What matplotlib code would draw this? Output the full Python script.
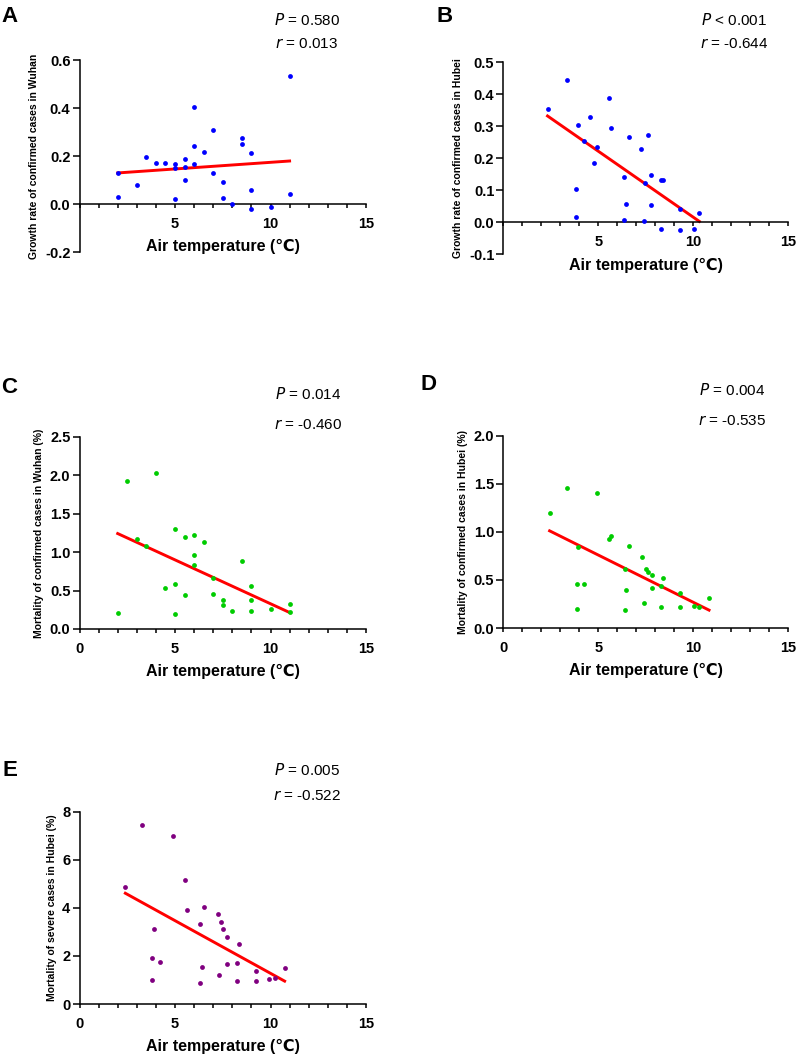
import numpy as np
import matplotlib
matplotlib.use("Agg")
import matplotlib.pyplot as plt
from matplotlib.ticker import MultipleLocator

plt.rcParams['font.family'] = ['Liberation Sans', 'DejaVu Sans']

# ---- data ----
# A: growth rate in Wuhan
wuhan_temp_a = [2, 2, 3, 3.5, 4, 4.5, 5, 5, 5, 5.5, 5.5, 5.5, 6, 6, 6, 6.5, 7, 7,
                7.5, 7.5, 8, 8.5, 8.5, 9, 9, 9, 10, 11, 11]
wuhan_growth = [0.129, 0.031, 0.081, 0.197, 0.169, 0.169, 0.165, 0.149, 0.021, 0.186,
                0.154, 0.101, 0.406, 0.240, 0.167, 0.218, 0.307, 0.128, 0.092, 0.024,
                -0.001, 0.276, 0.251, 0.211, 0.060, -0.021, -0.014, 0.535, 0.040]

# B: growth rate in Hubei
hubei_temp_b = [2.33, 3.35, 3.84, 3.84, 3.95, 4.25, 4.56, 4.77, 4.96, 5.56, 5.67, 6.37,
                6.37, 6.47, 6.60, 7.28, 7.39, 7.49, 7.60, 7.79, 7.79, 8.30, 8.30, 8.40,
                9.32, 9.32, 10.04, 10.33]
hubei_growth = [0.353, 0.444, 0.104, 0.017, 0.305, 0.255, 0.328, 0.184, 0.236, 0.389,
                0.295, 0.143, 0.008, 0.058, 0.266, 0.228, 0.005, 0.123, 0.272, 0.148,
                0.055, -0.021, 0.132, 0.133, 0.041, -0.024, -0.021, 0.029]

# C: mortality in Wuhan
wuhan_temp_c = [2, 2.5, 3, 3.5, 4, 4.5, 5, 5, 5, 5.5, 5.5, 6, 6, 6, 6.5, 7, 7, 7.5, 7.5,
                8, 8.5, 9, 9, 9, 10, 11, 11]
wuhan_mort = [0.214, 1.924, 1.175, 1.084, 2.028, 0.530, 1.305, 0.591, 0.197, 1.201,
              0.439, 1.223, 0.963, 0.829, 1.128, 0.665, 0.457, 0.379, 0.310, 0.232,
              0.881, 0.565, 0.379, 0.240, 0.262, 0.331, 0.227]

# D: mortality in Hubei
hubei_temp_d = [2.44, 3.35, 3.86, 3.86, 3.96, 4.26, 4.96, 5.58, 5.68, 6.39, 6.39, 6.49,
                6.60, 7.30, 7.40, 7.51, 7.60, 7.81, 7.81, 8.32, 8.32, 8.42, 9.32, 9.32,
                10.04, 10.33, 10.84]
hubei_mort = [1.200, 1.460, 0.456, 0.199, 0.847, 0.456, 1.408, 0.930, 0.961, 0.618,
              0.185, 0.397, 0.857, 0.736, 0.261, 0.618, 0.587, 0.549, 0.421, 0.438,
              0.217, 0.518, 0.369, 0.220, 0.234, 0.223, 0.307]

# E: mortality of severe cases in Hubei
hubei_temp_e = [2.40, 3.29, 3.80, 3.81, 3.90, 4.20, 4.92, 5.51, 5.61, 6.33, 6.33, 6.41,
                6.52, 7.23, 7.32, 7.43, 7.53, 7.72, 7.74, 8.23, 8.23, 8.33, 9.24, 9.24,
                9.94, 10.24, 10.74]
hubei_severe = [4.88, 7.44, 0.98, 1.93, 3.12, 1.75, 6.99, 5.16, 3.91, 3.32, 0.88, 1.53,
                4.02, 3.76, 1.19, 3.41, 3.14, 2.78, 1.67, 1.72, 0.95, 2.49, 1.36, 0.96,
                1.03, 1.09, 1.49]

W, H = 800, 1056
fig = plt.figure(figsize=(W/100, H/100), dpi=100)


def box(l, t, r, b):
    return [l/W, 1-b/H, (r-l)/W, (b-t)/H]


def panel(rect, x, y, color, ylim, ystep, ylabel, letter, letter_xy, stats, stats_xy,
          gap=25, show_zero=True):
    ax = fig.add_axes(rect)
    ax.scatter(x, y, s=12, color=color, zorder=3, linewidths=0)
    coef = np.polyfit(x, y, 1)
    fit = np.poly1d(coef)
    xs = np.array([min(x), max(x)])
    ax.plot(xs, fit(xs), color='#FF0000', lw=2.1, zorder=2)
    ax.set_xlim(0, 15)
    ax.set_ylim(*ylim)
    ax.spines['top'].set_visible(False)
    ax.spines['right'].set_visible(False)
    ax.spines['bottom'].set_position(('data', 0))
    for s in ['left', 'bottom']:
        ax.spines[s].set_linewidth(1.1)
    ax.xaxis.set_major_locator(MultipleLocator(5))
    ax.xaxis.set_minor_locator(MultipleLocator(1))
    ax.yaxis.set_major_locator(MultipleLocator(ystep))
    ax.tick_params(axis='x', which='both', length=3.2, width=1.1, pad=6,
                   labelsize=10.5)
    ax.tick_params(axis='y', length=5, width=1.1, pad=1.5, labelsize=10.5)
    if ystep < 1:
        ax.yaxis.set_major_formatter(lambda v, p: f"{v:.1f}")
    else:
        ax.yaxis.set_major_formatter(lambda v, p: f"{v:.0f}")
    if show_zero:
        ax.xaxis.set_major_formatter(lambda v, p: f"{v:.0f}")
    else:
        ax.xaxis.set_major_formatter(lambda v, p: "" if v == 0 else f"{v:.0f}")
    for lab in ax.get_xticklabels() + ax.get_yticklabels():
        lab.set_fontweight('bold')
    ax.set_xlabel('Air temperature (℃)', fontsize=11.5, fontweight='bold', labelpad=6)
    ax.set_ylabel(ylabel, fontsize=7.5, fontweight='bold', labelpad=4)
    fig.text(letter_xy[0]/W, 1-letter_xy[1]/H, letter, fontsize=16, fontweight='bold',
             ha='left', va='baseline')
    fig.text(stats_xy[0]/W, 1-stats_xy[1]/H, stats[0], fontsize=11, ha='center',
             va='center')
    fig.text(stats_xy[0]/W, 1-(stats_xy[1]+gap)/H, stats[1], fontsize=11, ha='center',
             va='center')
    return ax


panel(box(79.5, 60, 366, 252), wuhan_temp_a, wuhan_growth, '#0000FF', (-0.2, 0.6), 0.2,
      'Growth rate of confirmed cases in Wuhan', 'A', (1, 22),
      ('$\\it{P}$ = 0.580', '$\\it{r}$ = 0.013'), (307, 20), gap=24, show_zero=False)
panel(box(503.3, 62.3, 788, 254.3), hubei_temp_b, hubei_growth, '#0000FF', (-0.1, 0.5), 0.1,
      'Growth rate of confirmed cases in Hubei', 'B', (436, 22),
      ('$\\it{P}$ < 0.001', '$\\it{r}$ = -0.644'), (734, 20), gap=24, show_zero=False)
panel(box(79.5, 436.7, 366, 629), wuhan_temp_c, wuhan_mort, '#00CC00', (0, 2.5), 0.5,
      'Mortality of confirmed cases in Wuhan (%)', 'C', (1, 393),
      ('$\\it{P}$ = 0.014', '$\\it{r}$ = -0.460'), (308, 394), gap=31)
panel(box(503.3, 435.7, 788, 628), hubei_temp_d, hubei_mort, '#00CC00', (0, 2.0), 0.5,
      'Mortality of confirmed cases in Hubei (%)', 'D', (420, 390),
      ('$\\it{P}$ = 0.004', '$\\it{r}$ = -0.535'), (732, 390), gap=31)
panel(box(79.5, 811.7, 366, 1004), hubei_temp_e, hubei_severe, '#800080', (0, 8), 2,
      'Mortality of severe cases in Hubei (%)', 'E', (3, 776),
      ('$\\it{P}$ = 0.005', '$\\it{r}$ = -0.522'), (307.5, 770), gap=26)

fig.savefig('out.png', dpi=100)
